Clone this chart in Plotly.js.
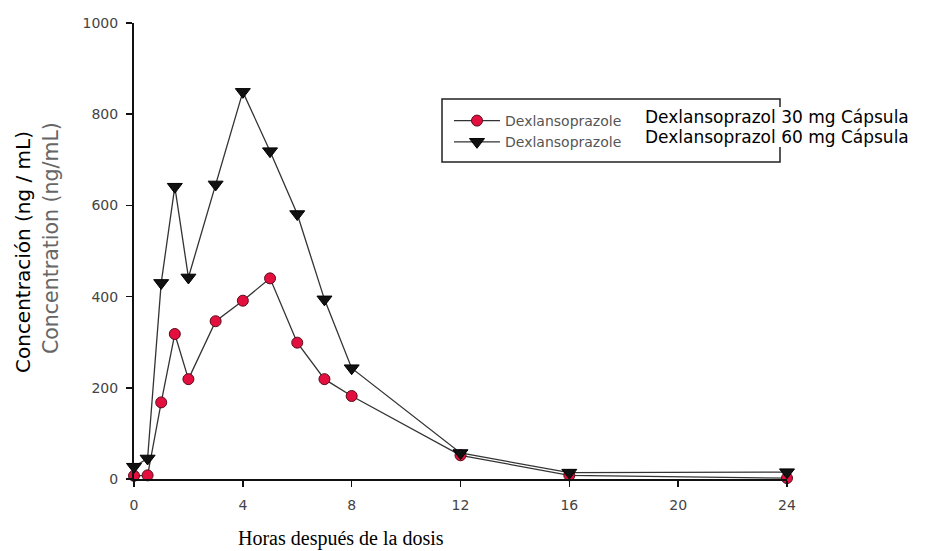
<!DOCTYPE html>
<html>
<head>
<meta charset="utf-8">
<script src="https://cdn.plot.ly/plotly-3.0.1.min.js"></script>
<style>body{margin:0;background:#fff;} #chart{width:925px;height:551px;}</style>
</head>
<body>
<div id="chart"></div>
<script>
// Data
const hours = [0, 0.5, 1, 1.5, 2, 3, 4, 5, 6, 7, 8, 12, 16, 24];
const conc30 = [7, 8, 168, 318, 219, 346, 391, 440, 299, 219, 182, 52, 8, 2];
const conc60 = [27, 45, 430, 641, 442, 646, 849, 719, 581, 394, 243, 57, 14, 15];
const seriesNames = ["Dexlansoprazole", "Dexlansoprazole"];
const labels = ["Dexlansoprazol 30 mg Cápsula", "Dexlansoprazol 60 mg Cápsula"];
const xTicks = [0, 4, 8, 12, 16, 20, 24];
const yTicks = [0, 200, 400, 600, 800, 1000];
const yTitles = ["Concentración (ng / mL)", "Concentration (ng/mL)"];
const xTitle = "Horas después de la dosis";

const SANS = "DejaVu Sans, Arial, sans-serif";

const traces = [
  {
    x: hours, y: conc30, name: seriesNames[0], type: "scatter", mode: "lines+markers",
    line: {color: "#333", width: 1.3},
    marker: {symbol: "circle", size: 11, color: "#e3103f", line: {color: "#5a0a1a", width: 1}},
    cliponaxis: false
  },
  {
    x: hours, y: conc60, name: seriesNames[1], type: "scatter", mode: "lines+markers",
    line: {color: "#333", width: 1.3},
    marker: {symbol: "triangle-down", size: 13, color: "#111", line: {color: "#000", width: 1}},
    cliponaxis: false
  }
];

const W = 925, H = 551, L = 134, R = 787, T = 23, B = 479;
const px = X => (X - L) / (R - L);
const py = Y => (B - Y) / (B - T);

const layout = {
  width: W, height: H,
  margin: {l: L, r: W - R, t: T, b: H - B},
  paper_bgcolor: "#fff", plot_bgcolor: "#fff",
  font: {family: SANS, color: "#333"},
  showlegend: true,
  legend: {
    x: px(449), y: py(105), xanchor: "left", yanchor: "top",
    bgcolor: "rgba(0,0,0,0)", borderwidth: 0,
    font: {size: 14, color: "#555", family: SANS},
    tracegroupgap: 0, itemwidth: 46
  },
  xaxis: {
    range: [0, 24], tickvals: xTicks, ticktext: xTicks.map(String),
    showgrid: false, zeroline: false, showline: true, linecolor: "#111", linewidth: 2,
    ticks: "outside", ticklen: 6, tickwidth: 1.5, tickcolor: "#111",
    tickfont: {size: 14, color: "#444", family: SANS}, ticklabelstandoff: 6
  },
  yaxis: {
    range: [0, 1000], tickvals: yTicks, ticktext: yTicks.map(String),
    showgrid: false, zeroline: false, showline: true, linecolor: "#111", linewidth: 2,
    ticks: "outside", ticklen: 6, tickwidth: 1.5, tickcolor: "#111",
    tickfont: {size: 14, color: "#444", family: SANS}, ticklabelstandoff: 5
  },
  shapes: [
    {type: "rect", xref: "paper", yref: "paper", x0: px(442), x1: px(780), y0: py(162), y1: py(99),
     line: {color: "#222", width: 1.5}, fillcolor: "rgba(0,0,0,0)", layer: "below"},
    {type: "rect", xref: "paper", yref: "paper", x0: px(643), x1: px(924), y0: py(147), y1: py(107),
     line: {width: 0}, fillcolor: "#fff", layer: "above"}
  ],
  annotations: [
    {xref: "paper", yref: "paper", x: px(644), y: py(117), xanchor: "left", yanchor: "middle",
     text: labels[0], showarrow: false, borderpad: 0,
     font: {size: 17, color: "#000", family: SANS}},
    {xref: "paper", yref: "paper", x: px(644), y: py(137), xanchor: "left", yanchor: "middle",
     text: labels[1], showarrow: false, borderpad: 0,
     font: {size: 17, color: "#000", family: SANS}},
    {xref: "paper", yref: "paper", x: px(23), y: py(252), xanchor: "center", yanchor: "middle",
     text: yTitles[0], textangle: -90, showarrow: false,
     font: {size: 20, color: "#000", family: SANS}},
    {xref: "paper", yref: "paper", x: px(51), y: py(238), xanchor: "center", yanchor: "middle",
     text: yTitles[1], textangle: -90, showarrow: false,
     font: {size: 20.5, color: "#666", family: SANS}},
    {xref: "paper", yref: "paper", x: px(341), y: py(538), xanchor: "center", yanchor: "middle",
     text: xTitle, showarrow: false,
     font: {size: 20, color: "#000", family: "Liberation Serif, Times New Roman, serif"}}
  ]
};

Plotly.newPlot("chart", traces, layout, {staticPlot: true, displayModeBar: false});
</script>
</body>
</html>
